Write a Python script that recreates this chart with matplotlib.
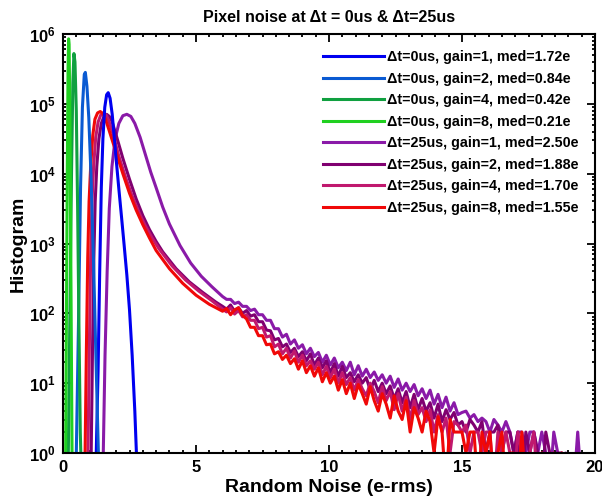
import numpy as np
import matplotlib
matplotlib.use("Agg")
import matplotlib.pyplot as plt
from matplotlib.ticker import MultipleLocator, LogLocator, NullFormatter

plt.rcParams['font.family'] = ['Liberation Sans', 'DejaVu Sans']
plt.rcParams['font.weight'] = 'bold'

# histogram values stored as log10(counts); values below 0 mean empty bins
# --- dt = 0us ---
g1_x = [1.22, 1.25, 1.32, 1.38, 1.44, 1.5, 1.57, 1.64, 1.7, 1.77, 1.85, 1.92, 2.0, 2.1, 2.2, 2.3, 2.4, 2.5, 2.6, 2.7, 2.76, 2.79]
g1_y = [-0.3, 0.0, 1.2, 2.6, 3.8, 4.5, 4.95, 5.13, 5.16, 5.08, 4.85, 4.55, 4.2, 3.78, 3.38, 2.97, 2.55, 2.05, 1.4, 0.6, 0.0, -0.3]

g2_x = [0.48, 0.5, 0.58, 0.66, 0.73, 0.8, 0.84, 0.9, 0.97, 1.05, 1.15, 1.25, 1.33, 1.36]
g2_y = [-0.3, 0.0, 1.8, 3.8, 4.95, 5.42, 5.45, 5.25, 4.8, 4.0, 2.7, 1.2, 0.0, -0.3]

g4_x = [0.18, 0.2, 0.26, 0.32, 0.37, 0.41, 0.45, 0.5, 0.55, 0.6, 0.65, 0.67, 0.69]
g4_y = [-0.3, 0.0, 2.0, 4.0, 5.3, 5.72, 5.6, 4.9, 3.5, 1.8, 0.3, 0.0, -0.3]

g8_x = [0.08, 0.1, 0.13, 0.16, 0.19, 0.21, 0.23, 0.26, 0.29, 0.32, 0.34, 0.36]
g8_y = [-0.3, 0.0, 2.0, 4.0, 5.5, 5.93, 5.85, 4.8, 3.0, 1.2, 0.0, -0.3]

# --- dt = 25us, peak region ---
p1_x = [1.5, 1.58, 1.66, 1.74, 1.84, 1.96, 2.1, 2.25, 2.4, 2.55, 2.7, 2.9, 3.1, 3.3, 3.5, 3.75, 4.0, 4.4, 4.8, 5.2, 5.6]
p1_y = [-0.3, 1.4, 2.6, 3.5, 4.1, 4.5, 4.72, 4.83, 4.85, 4.82, 4.72, 4.52, 4.27, 4.02, 3.8, 3.52, 3.28, 2.97, 2.72, 2.53, 2.38]

p2_x = [1.05, 1.11, 1.16, 1.21, 1.27, 1.35, 1.44, 1.54, 1.64, 1.74, 1.84, 2.0, 2.25, 2.5, 2.75, 3.0, 3.25, 3.5, 3.75, 4.25, 4.75, 5.25, 5.75]
p2_y = [-0.3, 1.5, 2.8, 3.6, 4.1, 4.5, 4.72, 4.82, 4.85, 4.82, 4.75, 4.55, 4.22, 3.92, 3.64, 3.4, 3.2, 3.03, 2.88, 2.64, 2.45, 2.3, 2.16]

p4_x = [0.93, 0.99, 1.04, 1.09, 1.15, 1.23, 1.32, 1.42, 1.52, 1.62, 1.72, 1.87, 2.1, 2.35, 2.6, 2.85, 3.1, 3.35, 3.6, 4.1, 4.6, 5.1, 5.6]
p4_y = [-0.3, 1.5, 2.8, 3.6, 4.1, 4.52, 4.74, 4.84, 4.87, 4.84, 4.76, 4.58, 4.25, 3.95, 3.68, 3.45, 3.25, 3.08, 2.93, 2.68, 2.48, 2.32, 2.18]

p8_x = [0.82, 0.88, 0.93, 0.98, 1.04, 1.12, 1.2, 1.3, 1.4, 1.5, 1.6, 1.75, 2.0, 2.25, 2.5, 2.75, 3.0, 3.25, 3.5, 4.0, 4.5, 5.0, 5.5]
p8_y = [-0.3, 1.5, 2.8, 3.6, 4.1, 4.55, 4.78, 4.87, 4.89, 4.86, 4.78, 4.6, 4.3, 4.0, 3.72, 3.48, 3.27, 3.08, 2.9, 2.64, 2.43, 2.26, 2.13]

# --- dt = 25us, noisy tails, bins from 6.0 to 19.5 every 0.15 ---
tail_x = np.arange(91) * 0.15 + 6.0

p1_tail = [2.24, 2.2, 2.2, 2.14, 2.16, 2.1, 2.1, 2.04, 2.06, 1.98,
           1.98, 1.9, 1.9, 1.78, 1.78, 1.66, 1.7, 1.56, 1.62, 1.5,
           1.55, 1.42, 1.5, 1.38, 1.44, 1.3, 1.4, 1.26, 1.36, 1.22,
           1.3, 1.18, 1.3, 1.12, 1.25, 1.1, 1.2, 1.08, 1.16, 1.04,
           1.12, 1.0, 1.1, 0.94, 1.06, 0.9, 1.0, 0.88, 0.98, 0.82,
           0.92, 0.78, 0.9, 0.7, 0.84, 0.65, 0.8, 0.6, 0.72, 0.55,
           0.58, 0.6, 0.5, 0.55, 0.45, 0.5, 0.45, 0.3, 0.48, 0.4,
           0.3, 0.45, 0.3, 0.0, 0.3, 0.3, 0.0, 0.3, 0.3, 0.0,
           0.3, 0.0, -0.5, 0.3, 0.0, -0.5, 0.0, -0.5, -0.5, 0.3, -0.5]

p2_tail = [2.1, 2.06, 2.12, 2.03, 2.08, 2.0, 2.04, 1.96, 1.98, 1.88,
           1.88, 1.76, 1.75, 1.62, 1.64, 1.52, 1.56, 1.44, 1.5, 1.38,
           1.45, 1.32, 1.42, 1.26, 1.36, 1.22, 1.32, 1.15, 1.28, 1.1,
           1.24, 1.08, 1.15, 1.02, 1.12, 1.0, 1.08, 0.9, 1.04, 0.88,
           1.0, 0.85, 0.96, 0.78, 0.92, 0.72, 0.88, 0.65, 0.84, 0.62,
           0.78, 0.6, 0.72, 0.5, 0.7, 0.45, 0.62, 0.48, 0.58, 0.4,
           0.45, 0.3, 0.48, 0.4, 0.3, 0.45, 0.0, 0.3, 0.3, 0.4,
           0.0, 0.3, 0.3, 0.0, 0.3, -0.5, 0.3, 0.0, 0.3, 0.0,
           -0.5, 0.3, 0.0, -0.5, 0.0, 0.0, -0.5, -0.5, -0.5, -0.5, -0.5]

p4_tail = [2.06, 2.02, 2.08, 1.99, 2.04, 1.95, 1.98, 1.9, 1.9, 1.78,
           1.8, 1.66, 1.68, 1.52, 1.56, 1.42, 1.5, 1.36, 1.46, 1.3,
           1.4, 1.25, 1.32, 1.2, 1.3, 1.12, 1.24, 1.08, 1.2, 1.0,
           1.15, 0.98, 1.08, 0.9, 1.05, 0.92, 0.82, 1.0, 0.88, 0.72,
           0.95, 0.75, 0.88, 0.62, 0.85, 0.6, 0.8, 0.48, 0.75, 0.55,
           0.65, 0.45, 0.62, 0.3, 0.55, 0.3, 0.5, 0.0, 0.45, 0.4,
           0.3, 0.4, 0.0, 0.3, 0.3, 0.0, 0.3, 0.3, -0.5, 0.3,
           0.0, 0.3, 0.0, -0.5, 0.3, 0.0, -0.5, 0.0, 0.3, -0.5,
           0.0, -0.5, 0.0, -0.5, -0.5, 0.0, -0.5, -0.5, -0.5, -0.5, -0.5]

p8_tail = [2.03, 2.07, 1.98, 2.05, 2.08, 1.97, 1.92, 1.8, 1.8, 1.68,
           1.68, 1.55, 1.56, 1.42, 1.45, 1.34, 1.4, 1.28, 1.35, 1.2,
           1.32, 1.15, 1.25, 1.1, 1.22, 1.02, 1.15, 1.0, 1.1, 0.9,
           1.05, 0.85, 1.0, 0.78, 0.98, 0.85, 0.7, 0.95, 0.75, 0.6,
           0.85, 0.7, 0.5, 0.82, 0.6, 0.48, 0.75, 0.3, 0.65, 0.5,
           0.3, 0.6, 0.45, 0.0, 0.52, 0.3, -0.5, 0.48, 0.3, 0.3,
           0.3, 0.0, 0.3, 0.3, -0.5, 0.3, 0.0, 0.3, -0.5, 0.0,
           0.3, -0.5, 0.0, 0.0, -0.5, 0.3, -0.5, 0.0, -0.5, -0.5,
           0.0, -0.5, -0.5, 0.0, -0.5, 0.0, -0.5, -0.5, -0.5, -0.5, -0.5]

labels = [
    '\u0394t=0us, gain=1, med=1.72e',
    '\u0394t=0us, gain=2, med=0.84e',
    '\u0394t=0us, gain=4, med=0.42e',
    '\u0394t=0us, gain=8, med=0.21e',
    '\u0394t=25us, gain=1, med=2.50e',
    '\u0394t=25us, gain=2, med=1.88e',
    '\u0394t=25us, gain=4, med=1.70e',
    '\u0394t=25us, gain=8, med=1.55e',
]
colors = ['#0000f0', '#0a5ad2', '#10a040', '#20d020',
          '#8a1aa8', '#800070', '#c0186e', '#f00808']

series = [
    (g1_x, g1_y),
    (g2_x, g2_y),
    (g4_x, g4_y),
    (g8_x, g8_y),
    (p1_x + list(tail_x), p1_y + p1_tail),
    (p2_x + list(tail_x), p2_y + p2_tail),
    (p4_x + list(tail_x), p4_y + p4_tail),
    (p8_x + list(tail_x), p8_y + p8_tail),
]

fig = plt.figure(figsize=(6.02, 4.99), dpi=100)
ax = fig.add_axes([63/602, 46/499, 532/602, 419/499])

# draw 25us first so 0us lines show on top near the peaks
order = [4, 5, 6, 7, 0, 1, 2, 3]
handles = {}
for i in order:
    x, y = series[i]
    h, = ax.plot(x, 10 ** np.array(y), color=colors[i], lw=2.2, label=labels[i])
    handles[i] = h

ax.set_yscale('log')
ax.set_xlim(0, 20)
ax.set_ylim(1, 1e6)
ax.xaxis.set_major_locator(MultipleLocator(5))
ax.xaxis.set_minor_locator(MultipleLocator(0.5))
ax.yaxis.set_major_locator(LogLocator(base=10, numticks=10))
ax.yaxis.set_minor_locator(LogLocator(base=10, subs=np.arange(2, 10), numticks=10))
ax.yaxis.set_minor_formatter(NullFormatter())
ax.tick_params(which='both', direction='in', top=True, right=True, width=1.3)
ax.tick_params(which='major', length=5.5, labelsize=12, pad=5)
ax.tick_params(which='minor', length=2.5)
for s in ax.spines.values():
    s.set_linewidth(1.5)

ax.set_title('Pixel noise at \u0394t = 0us & \u0394t=25us', fontsize=11.5, fontweight='bold', pad=9)
ax.set_xlabel('Random Noise (e-rms)', fontsize=14, fontweight='bold', labelpad=3)
ax.set_ylabel('Histogram', fontsize=14, fontweight='bold', labelpad=2)

ax.legend([handles[i] for i in range(8)], labels, loc='upper right', frameon=False,
          fontsize=10.3, handlelength=4.3, handletextpad=0.2, labelspacing=0.52,
          borderaxespad=0.75)

fig.savefig('out.png', dpi=100)
